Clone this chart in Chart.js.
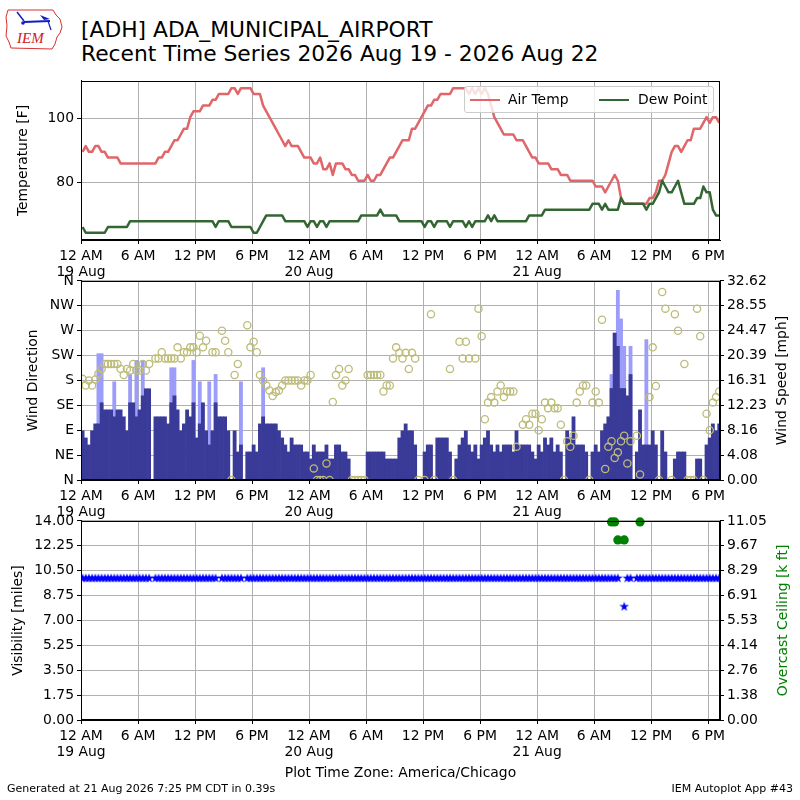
<!DOCTYPE html>
<html><head><meta charset="utf-8">
<script src="https://cdn.jsdelivr.net/npm/chart.js@4.4.1/dist/chart.umd.min.js"></script>
<style>
html,body{margin:0;padding:0;background:#fff;}
#wrap{position:relative;width:800px;height:800px;overflow:hidden;font-family:"DejaVu Sans",sans-serif;background:#fff;}
canvas{position:absolute;left:0;}
.t{position:absolute;white-space:nowrap;color:#000;}
</style></head><body>
<div id="wrap">
<svg style="position:absolute;left:0;top:0" width="70" height="56" viewBox="0 0 70 56">
  <path d="M8 10 L53 10 L56 15 L60 19 L62 27 L60 33 L57 37 L55 44 L52 49 L11 48 L9 42 L6 36 L7 26 L6 17 Z" fill="none" stroke="#d83030" stroke-width="1"/>
  <circle cx="23" cy="23" r="1.8" fill="#1020c0"/>
  <line x1="24" y1="22" x2="50" y2="21" stroke="#1020c0" stroke-width="2"/>
  <path d="M17 12 L24 21" stroke="#1020c0" stroke-width="1.5" fill="none"/>
  <path d="M40 15 L50 19 L44 20 Z" fill="#1020c0"/>
  <path d="M48 21 L51 30" stroke="#1020c0" stroke-width="1.2"/>
  <text x="17" y="43" font-family="Liberation Serif" font-style="italic" font-size="15" fill="#d02020">IEM</text>
</svg>
<div class="t" style="left:81px;top:19px;font-size:21.8px;line-height:21.8px;">[ADH] ADA_MUNICIPAL_AIRPORT</div>
<div class="t" style="left:81px;top:43px;font-size:21.8px;line-height:21.8px;">Recent Time Series 2026 Aug 19 - 2026 Aug 22</div>
<canvas id="c1" width="800" height="210" style="top:70px"></canvas>
<canvas id="c2" width="800" height="250" style="top:270px"></canvas>
<canvas id="c3" width="800" height="260" style="top:510px"></canvas>
<div style="position:absolute;left:464px;top:86px;width:248px;height:25px;border:1px solid #cccccc;border-radius:3px;background:rgba(255,255,255,0.8);">
  <div style="position:absolute;left:5px;top:11.5px;width:30px;height:2.5px;background:#e0666a;"></div>
  <div class="t" style="left:43px;top:5.5px;font-size:13.9px;line-height:13.9px;">Air Temp</div>
  <div style="position:absolute;left:134px;top:11.5px;width:30px;height:2.5px;background:#346634;"></div>
  <div class="t" style="left:173px;top:5.5px;font-size:13.9px;line-height:13.9px;">Dew Point</div>
</div>
<div class="t" style="left:0;width:801px;text-align:center;top:766px;font-size:13.9px;line-height:13.9px;">Plot Time Zone: America/Chicago</div>
<div class="t" style="left:7px;top:783px;font-size:11px;line-height:11px;">Generated at 21 Aug 2026 7:25 PM CDT in 0.39s</div>
<div class="t" style="right:7px;top:783px;font-size:11px;line-height:11px;">IEM Autoplot App #43</div>
</div>
<script>
// ---------------- DATA (20-minute observations, 19 Aug 00:00 -> 21 Aug ~19:15 local) ----------------
const OBS_STEP_MIN = 20;          // observation spacing (minutes)
const OBS_OFFSET_MIN = 10;        // first observation centred 10 min after 12 AM 19 Aug

const airTemp = [
 89.6,91.4,89.6,89.6,91.4,91.4,89.6,89.6,87.8,87.8,
 87.8,87.8,86,86,86,86,86,86,86,86,
 86,86,86,86,87.8,87.8,89.6,89.6,91.4,93.2,
 93.2,95,96.8,96.8,100.4,102.2,102.2,102.2,104,104,
 104,105.8,105.8,107.6,107.6,107.6,107.6,109.4,109.4,107.6,
 109.4,109.4,109.4,109.4,107.6,107.6,107.6,104,102.2,100.4,
 98.6,96.8,95,93.2,91.4,93.2,91.4,91.4,91.4,89.6,
 87.8,87.8,87.8,86,86,87.8,84.2,84.2,86,82.4,
 86,86,86,84.2,84.2,82.4,82.4,80.6,80.6,80.6,
 82.4,80.6,80.6,82.4,82.4,84.2,86,87.8,87.8,89.6,
 91.4,93.2,93.2,93.2,96.8,96.8,98.6,100.4,102.2,104,
 104,105.8,105.8,107.6,107.6,107.6,107.6,109.4,109.4,109.4,
 109.4,109.4,107.6,109.4,107.6,109.4,107.6,109.4,107.6,104,
 100.4,98.6,96.8,95,95,95,95,93.2,93.2,93.2,
 91.4,89.6,87.8,87.8,86,86,86,86,84.2,84.2,
 84.2,82.4,82.4,82.4,80.6,80.6,80.6,80.6,80.6,80.6,
 80.6,80.6,78.8,78.8,78.8,77,78.8,80.6,82.4,80.6,
 75.2,73.4,73.4,73.4,73.4,73.4,73.4,73.4,73.4,75.2,
 75.2,77,80.6,80.6,82.4,86,89.6,91.4,91.4,89.6,
 91.4,93.2,93.2,96.8,96.8,96.8,98.6,100.4,98.6,100.4,
 100.4,98.6];

const dewPoint = [
 66.2,64.4,64.4,64.4,64.4,64.4,64.4,64.4,66.2,66.2,
 66.2,66.2,66.2,66.2,66.2,68,68,68,68,68,
 68,68,68,68,68,68,68,68,68,68,
 68,68,68,68,68,68,68,68,68,68,
 68,68,66.2,68,68,68,68,66.2,66.2,66.2,
 66.2,66.2,66.2,66.2,64.4,64.4,66.2,68,69.8,69.8,
 69.8,69.8,69.8,69.8,68,68,68,68,68,68,
 68,66.2,68,68,66.2,68,68,66.2,68,68,
 68,68,68,68,68,68,68,68,69.8,69.8,
 69.8,69.8,69.8,69.8,71.6,69.8,69.8,69.8,69.8,69.8,
 68,68,68,68,68,68,68,68,66.2,68,
 68,66.2,68,68,68,68,66.2,68,68,68,
 68,66.2,68,66.2,68,68,68,68,69.8,68,
 69.8,68,68,68,68,68,68,68,68,68,
 68,69.8,69.8,69.8,69.8,69.8,71.6,71.6,71.6,71.6,
 71.6,71.6,71.6,71.6,71.6,71.6,71.6,71.6,71.6,71.6,
 71.6,73.4,73.4,73.4,71.6,73.4,71.6,71.6,71.6,71.6,
 75.2,73.4,73.4,73.4,73.4,73.4,73.4,73.4,71.6,73.4,
 73.4,75.2,77,80.6,78.8,77,77,78.8,80.6,77,
 73.4,73.4,73.4,73.4,75.2,75.2,78.8,77,77,71.6,
 69.8,69.8];

// wind direction (deg), null = not reported
const windDir = [
 183,171,180,171,182,192,201,210,210,210,
 210,210,201,190,201,198,210,198,198,210,
 198,210,null,220,220,231,220,220,220,220,
 240,220,231,231,240,240,231,261,240,252,
 null,231,231,null,270,252,231,0,190,210,
 null,null,280,240,250,231,190,180,171,162,
 152,159,162,171,180,180,180,180,180,171,
 180,180,190,21,0,0,0,30,0,141,
 190,201,171,180,201,0,0,0,0,0,
 190,190,190,190,190,160,171,171,220,240,
 230,220,230,201,230,220,0,null,0,null,
 300,0,null,null,null,null,201,0,null,250,
 220,250,220,null,220,310,260,110,140,150,
 140,160,171,150,160,160,160,60,null,100,
 110,100,120,120,90,110,140,130,140,130,
 130,100,0,70,60,80,140,160,171,171,
 0,140,160,140,290,20,60,70,40,50,
 70,80,30,70,null,80,10,null,null,150,
 240,170,0,340,310,null,0,300,270,null,
 210,0,0,0,310,260,0,120,90,140,
 150,160];

// sustained wind speed (mph)
const windSpeed = [
 8.06,6.9,5.75,8.06,9.2,9.2,12.66,11.5,11.5,11.5,
 10.36,11.5,11.5,10.36,8.06,12.66,12.66,10.36,11.5,13.8,
 14.96,14.96,0,10.36,10.36,10.36,10.36,9.2,12.66,13.8,
 11.5,8.06,9.2,11.5,10.36,12.66,6.9,9.2,12.66,8.06,
 5.75,8.06,12.66,10.36,10.36,10.36,8.06,0,8.06,4.6,
 5.75,0,4.6,4.6,5.75,4.6,9.2,10.36,9.2,9.2,
 9.2,9.2,8.06,6.9,5.75,4.6,6.9,5.75,5.75,5.75,
 4.6,4.6,3.45,5.75,4.6,4.6,4.6,5.75,3.45,3.45,
 5.75,5.75,4.6,4.6,3.45,0,0,0,0,0,
 4.6,4.6,4.6,4.6,4.6,4.6,3.45,3.45,3.45,3.45,
 6.9,8.06,9.2,8.06,8.06,5.75,0,0,4.6,5.75,
 5.75,0,6.9,6.9,6.9,6.9,4.6,0,3.45,5.75,
 6.9,8.06,5.75,4.6,5.75,3.45,5.75,6.9,8.06,5.75,
 4.6,5.75,4.6,5.75,5.75,5.75,4.6,8.06,5.75,5.75,
 5.75,5.75,4.6,3.45,5.75,4.6,6.9,5.75,6.9,4.6,
 5.75,4.6,0,8.06,6.9,10.36,5.75,5.75,5.75,4.6,
 0,4.6,5.75,4.6,8.06,9.2,10.36,15.0,24.1,21.9,
 15.0,15.0,13.8,17.3,0,4.6,11.5,5.75,5.75,5.75,
 8.06,5.75,0,8.06,4.6,0,0,3.45,4.6,4.6,
 4.6,0,0,0,3.45,3.45,0,5.75,6.9,9.2,
 8.06,9.2];

// wind gusts (mph): observation index and value
const gustIndex = [5,6,10,15,17,19,28,29,35,37,40,42,50,57,167,168,169,170,171,173,178];
const gustMph   = [20.7,20.7,16.1,17.3,19.6,19.6,18.4,18.4,19.6,16.1,16.1,17.3,16.1,18.4,17.3,24.1,31.1,26.4,21.9,21.9,23.0];

// visibility (miles), null = missing
const visibility = [
 10,10,10,10,10,10,10,10,10,10, 10,10,10,10,10,10,10,10,10,10,
 10,10,null,10,10,10,10,10,10,10, 10,10,10,10,10,10,10,10,10,10,
 10,10,10,null,10,10,10,10,10,10, 10,null,10,10,10,10,10,10,10,10,
 10,10,10,10,10,10,10,10,10,10, 10,10,10,10,10,10,10,10,10,10,
 10,10,10,10,10,10,10,10,10,10, 10,10,10,10,10,10,10,10,10,10,
 10,10,10,10,10,10,10,10,10,10, 10,10,10,10,10,10,10,10,10,10,
 10,10,10,10,10,10,10,10,10,10, 10,10,10,10,10,10,10,10,10,10,
 10,10,10,10,10,10,10,10,10,10, 10,10,10,10,10,10,10,10,10,10,
 10,10,10,10,10,10,10,10,10,10, null,8,10,10,null,10,10,10,10,10,
 10,10,10,10,10,10,10,10,10,10, 10,10,10,10,10,10,10,10,10,10,
 10,10];

// overcast ceiling (k ft): observation index and value
const ceilingIndex = [167,168,169,171,176];
const ceilingKft   = [11,11,10,10,11];

// axis ticks
const xTickHours  = [0,6,12,18,24,30,36,42,48,54,60,66];
const xTickLabels = ['12 AM|19 Aug','6 AM','12 PM','6 PM','12 AM|20 Aug','6 AM','12 PM','6 PM','12 AM|21 Aug','6 AM','12 PM','6 PM'];
const tempTicks = [80, 100];
const dirTickLabels = ['N','NE','E','SE','S','SW','W','NW','N'];
const speedTicks = [0.00,4.08,8.16,12.23,16.31,20.39,24.47,28.55,32.62];
const visTicks   = [0.00,1.75,3.50,5.25,7.00,8.75,10.50,12.25,14.00];
const ceilTicks  = [0.00,1.38,2.76,4.14,5.53,6.91,8.29,9.67,11.05];

// ---------------- STYLE / LAYOUT ----------------
const X_MIN = 0, X_MAX = 67.25;
const TEMP_MIN = 62.15, TEMP_MAX = 111.65;
const TEMP_COLOR = '#e0666a', DEW_COLOR = '#346634';
const DIR_COLOR = '#bdbc78', SPEED_COLOR = '#3a3a98', GUST_COLOR = '#9c9cfa';
const GRID = '#b0b0b0';
const FONT = 'DejaVu Sans';
const tickFont = { family: FONT, size: 13.9, lineHeight: 1.15 };
Chart.defaults.font.family = FONT;

const obsHours = airTemp.map((_, i) => (i * OBS_STEP_MIN + OBS_OFFSET_MIN) / 60);
const toXY = arr => arr.map((v, i) => ({ x: obsHours[i], y: v }));
const sparseXY = (idx, vals) => idx.map((k, j) => ({ x: obsHours[k], y: vals[j] }));

const framePlugin = {
  id: 'frame',
  beforeDraw(chart) {
    const { ctx, chartArea: a } = chart;
    ctx.save(); ctx.fillStyle = '#fff';
    ctx.fillRect(a.left, a.top, a.right - a.left, a.bottom - a.top);
    ctx.restore();
  },
  afterDatasetsDraw(chart) {
    const { ctx, chartArea: a } = chart;
    ctx.save(); ctx.strokeStyle = '#000'; ctx.lineWidth = 1;
    ctx.strokeRect(Math.round(a.left) + 0.5, Math.round(a.top) + 0.5, Math.round(a.right - a.left) - 1, Math.round(a.bottom - a.top) - 1);
    ctx.restore();
  }
};
function titles(items) {
  return {
    id: 'sideTitles',
    afterDraw(chart) {
      const { ctx, chartArea: a } = chart;
      items.forEach(it => {
        ctx.save();
        ctx.translate(it.x, (a.top + a.bottom) / 2);
        ctx.rotate(-Math.PI / 2);
        ctx.font = '13.9px "' + FONT + '"';
        ctx.fillStyle = it.color || '#000';
        ctx.textAlign = 'center'; ctx.textBaseline = 'middle';
        ctx.fillText(it.text, 0, 0);
        ctx.restore();
      });
    }
  };
}
function xScale(h) {
  return {
    type: 'linear', min: X_MIN, max: X_MAX, offset: false,
    afterBuildTicks: s => { s.ticks = xTickHours.map(v => ({ value: v })); },
    ticks: { autoSkip: false, maxRotation: 0, minRotation: 0, padding: 4, color: '#000', font: tickFont,
      callback: v => { const k = xTickHours.indexOf(v); return k >= 0 ? xTickLabels[k].split('|') : ''; } },
    grid: { color: GRID, lineWidth: 1, tickColor: '#000', tickLength: 4, offset: false },
    border: { color: '#000', width: 1 },
    afterFit: s => { s.height = h; }
  };
}
function yScale(pos, min, max, ticks, fmt, grid, color) {
  return {
    type: 'linear', position: pos, min: min, max: max,
    afterBuildTicks: s => { s.ticks = ticks.map(v => ({ value: v })); },
    ticks: { color: color || '#000', font: tickFont, padding: 3, autoSkip: false, callback: fmt },
    grid: grid ? { color: GRID, lineWidth: 1, tickColor: '#000', tickLength: 4 }
               : { drawOnChartArea: false, tickColor: '#000', tickLength: 4 },
    border: { color: '#000', width: 1 },
    afterFit: s => { s.width = pos === 'left' ? 81 : 80; }
  };
}
const baseOpts = (padRight) => ({
  responsive: false, animation: false, events: [],
  layout: { padding: { top: 10, right: padRight, left: 0, bottom: 0 } },
  plugins: { legend: { display: false }, tooltip: { enabled: false } }
});

// ---------------- PANEL 1: temperature ----------------
new Chart(document.getElementById('c1'), {
  type: 'line',
  data: { datasets: [
    { label: 'Dew Point', data: toXY(dewPoint), borderColor: DEW_COLOR, borderWidth: 2.5, pointRadius: 0,
      borderJoinStyle: 'round', order: 0, clip: 0 },
    { label: 'Air Temp', data: toXY(airTemp), borderColor: TEMP_COLOR, borderWidth: 2.5, pointRadius: 0,
      borderJoinStyle: 'round', order: 1, clip: 0 }
  ]},
  options: Object.assign(baseOpts(80), {
    scales: {
      x: xScale(40),
      y: yScale('left', TEMP_MIN, TEMP_MAX, tempTicks, v => String(v), true)
    }
  }),
  plugins: [framePlugin, titles([{ text: 'Temperature [F]', x: 23 }])]
});

// ---------------- PANEL 2: wind ----------------
new Chart(document.getElementById('c2'), {
  type: 'scatter',
  data: { datasets: [
    { type: 'scatter', label: 'Wind Direction', data: toXY(windDir), yAxisID: 'yL', order: 0, clip: 0,
      pointStyle: 'circle', pointRadius: 3.6, pointBorderWidth: 1.3,
      pointBorderColor: DIR_COLOR, pointBackgroundColor: 'rgba(0,0,0,0)',
      borderColor: DIR_COLOR, backgroundColor: 'rgba(0,0,0,0)' },
    { type: 'bar', label: 'Wind Speed', data: toXY(windSpeed), yAxisID: 'yR', order: 1,
      backgroundColor: SPEED_COLOR, borderWidth: 0, barPercentage: 1, categoryPercentage: 1, grouped: false },
    { type: 'bar', label: 'Wind Gust', data: sparseXY(gustIndex, gustMph), yAxisID: 'yR', order: 2,
      backgroundColor: GUST_COLOR, borderWidth: 0, barPercentage: 1, categoryPercentage: 1, grouped: false }
  ]},
  options: Object.assign(baseOpts(0), {
    scales: {
      x: xScale(40),
      yL: yScale('left', 0, 360, dirTickLabels.map((_, k) => k * 45), v => dirTickLabels[Math.round(v / 45)], true),
      yR: yScale('right', 0, speedTicks[speedTicks.length - 1], speedTicks, v => v.toFixed(2), false)
    }
  }),
  plugins: [framePlugin, titles([{ text: 'Wind Direction', x: 33 }, { text: 'Wind Speed [mph]', x: 782 }])]
});

// ---------------- PANEL 3: visibility / ceiling ----------------
function makeStar(size, color) {
  const c = document.createElement('canvas'); c.width = size; c.height = size;
  const g = c.getContext('2d'); g.fillStyle = color; g.beginPath();
  const cx = size / 2, cy = size / 2 + 0.4, R = size / 2, r = R * 0.40;
  for (let k = 0; k < 10; k++) {
    const ang = -Math.PI / 2 + k * Math.PI / 5, rad = (k % 2) ? r : R;
    g.lineTo(cx + rad * Math.cos(ang), cy + rad * Math.sin(ang));
  }
  g.closePath(); g.fill();
  return c;
}
const starImg = makeStar(10, '#0000ff');

new Chart(document.getElementById('c3'), {
  type: 'scatter',
  data: { datasets: [
    { label: 'Overcast Ceiling', data: sparseXY(ceilingIndex, ceilingKft), yAxisID: 'yR', order: 0, clip: false,
      pointStyle: 'circle', pointRadius: 4.6, pointBorderWidth: 0, pointBackgroundColor: '#008000', backgroundColor: '#008000', borderColor: '#008000' },
    { label: 'Visibility', data: toXY(visibility), yAxisID: 'yL', order: 1, clip: 0,
      pointStyle: starImg, pointRadius: 5 }
  ]},
  options: Object.assign(baseOpts(0), {
    scales: {
      x: xScale(50),
      yL: yScale('left', 0, visTicks[visTicks.length - 1], visTicks, v => v.toFixed(2), true),
      yR: yScale('right', 0, ceilTicks[ceilTicks.length - 1], ceilTicks, v => v.toFixed(2), false)
    }
  }),
  plugins: [framePlugin, titles([{ text: 'Visibility [miles]', x: 18 }, { text: 'Overcast Ceiling [k ft]', x: 783, color: '#008000' }])]
});
</script>
</body></html>
